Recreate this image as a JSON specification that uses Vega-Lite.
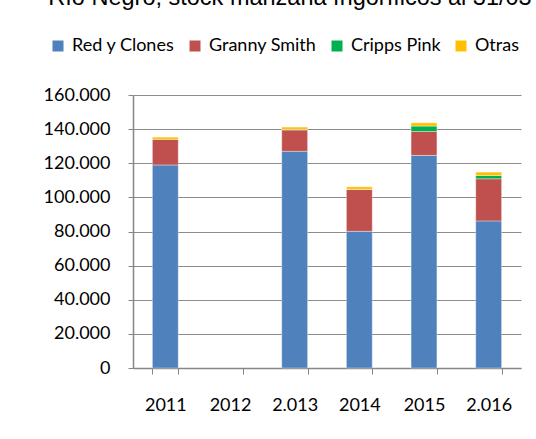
{
  "$schema": "https://vega.github.io/schema/vega-lite/v6.json",
  "width": 388,
  "height": 273,
  "autosize": {"type": "none"},
  "padding": {"left": 133, "top": 95, "right": 15, "bottom": 71},
  "background": "white",
  "title": {
    "text": "Río Negro, stock manzana frigoríficos al 31/03",
    "font": "Liberation Sans",
    "fontSize": 23.5,
    "fontWeight": "normal",
    "color": "#000000",
    "anchor": "middle",
    "dx": -37,
    "dy": -24
  },
  "config": {
    "locale": {
      "number": {"decimal": ",", "thousands": ".", "grouping": [3], "currency": ["$", ""]}
    },
    "view": {"stroke": null},
    "font": "Lato"
  },
  "data": {
    "values": [
      {"anio": "2011", "variedad": "Red y Clones", "orden": 1, "stock": 119000},
      {"anio": "2011", "variedad": "Granny Smith", "orden": 2, "stock": 15000},
      {"anio": "2011", "variedad": "Otras", "orden": 4, "stock": 1300},
      {"anio": "2.013", "variedad": "Red y Clones", "orden": 1, "stock": 127000},
      {"anio": "2.013", "variedad": "Granny Smith", "orden": 2, "stock": 12500},
      {"anio": "2.013", "variedad": "Cripps Pink", "orden": 3, "stock": 300},
      {"anio": "2.013", "variedad": "Otras", "orden": 4, "stock": 1400},
      {"anio": "2014", "variedad": "Red y Clones", "orden": 1, "stock": 80100},
      {"anio": "2014", "variedad": "Granny Smith", "orden": 2, "stock": 24500},
      {"anio": "2014", "variedad": "Cripps Pink", "orden": 3, "stock": 100},
      {"anio": "2014", "variedad": "Otras", "orden": 4, "stock": 1500},
      {"anio": "2015", "variedad": "Red y Clones", "orden": 1, "stock": 124600},
      {"anio": "2015", "variedad": "Granny Smith", "orden": 2, "stock": 14000},
      {"anio": "2015", "variedad": "Cripps Pink", "orden": 3, "stock": 3200},
      {"anio": "2015", "variedad": "Otras", "orden": 4, "stock": 1900},
      {"anio": "2.016", "variedad": "Red y Clones", "orden": 1, "stock": 86200},
      {"anio": "2.016", "variedad": "Granny Smith", "orden": 2, "stock": 24700},
      {"anio": "2.016", "variedad": "Cripps Pink", "orden": 3, "stock": 1900},
      {"anio": "2.016", "variedad": "Otras", "orden": 4, "stock": 2000}
    ]
  },
  "mark": {"type": "bar", "stroke": "#ffffff", "strokeWidth": 0.6, "strokeOpacity": 0.6},
  "encoding": {
    "x": {
      "field": "anio",
      "type": "nominal",
      "sort": null,
      "scale": {"domain": ["2011", "2012", "2.013", "2014", "2015", "2.016"], "paddingInner": 0.6, "paddingOuter": 0.3},
      "axis": {
        "title": null,
        "labelAngle": 0,
        "labelFont": "Lato",
        "labelFontSize": 18,
        "labelColor": "#000000",
        "labelPadding": 22,
        "tickSize": 6,
        "tickColor": "#868686",
        "tickBand": "extent",
        "domainColor": "#868686",
        "domainWidth": 1.5,
        "grid": false
      }
    },
    "y": {
      "field": "stock",
      "type": "quantitative",
      "stack": "zero",
      "scale": {"domain": [0, 160000], "nice": false},
      "axis": {
        "title": null,
        "values": [0, 20000, 40000, 60000, 80000, 100000, 120000, 140000, 160000],
        "format": ",.0f",
        "labelFont": "Lato",
        "labelFontSize": 18,
        "labelColor": "#000000",
        "labelPadding": 18,
        "tickSize": 5,
        "tickColor": "#868686",
        "domainColor": "#868686",
        "domainWidth": 1.5,
        "grid": true,
        "gridColor": "#8c8c8c",
        "gridWidth": 1.2
      }
    },
    "color": {
      "field": "variedad",
      "type": "nominal",
      "sort": ["Red y Clones", "Granny Smith", "Cripps Pink", "Otras"],
      "scale": {
        "domain": ["Red y Clones", "Granny Smith", "Cripps Pink", "Otras"],
        "range": ["#4F81BD", "#C0504D", "#00B050", "#FFC000"]
      },
      "legend": {
        "title": null,
        "orient": "none",
        "direction": "horizontal",
        "legendX": -84,
        "legendY": -58,
        "symbolType": "square",
        "symbolSize": 121,
        "symbolStrokeWidth": 0,
        "labelFont": "Lato",
        "labelFontSize": 18,
        "labelColor": "#000000",
        "labelOffset": 5,
        "columnPadding": 11
      }
    },
    "order": {"field": "orden", "type": "quantitative", "sort": "ascending"}
  }
}
